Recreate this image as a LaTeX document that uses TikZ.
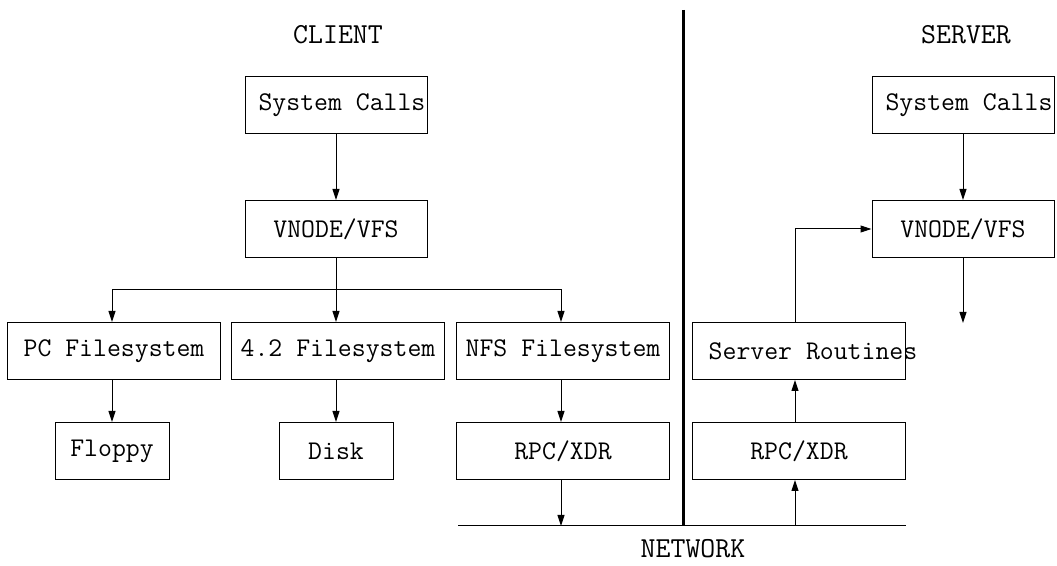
\documentclass[tikz,border=0pt]{standalone}
\usepackage{tikz}
\usetikzlibrary{arrows.meta,positioning}
\tikzset{every picture/.style={line width=0.5pt}}

\begin{document}
\begin{tikzpicture}[x=0.5pt, y=-0.5pt,
    txt/.style={font=\fontsize{13.5}{16}\selectfont\ttfamily},
    head/.style={font=\fontsize{14.5}{17}\selectfont\ttfamily},
    box/.style={txt, draw, inner sep=0pt, minimum height=28.5pt},
    widebox/.style={box, minimum width=106.5pt},
    midbox/.style={box, minimum width=91pt},
    smallbox/.style={box, minimum width=57pt},
    arr/.style={-{Triangle[length=5.5pt, width=3.5pt]}}]
    \useasboundingbox (0,0) rectangle (1057,566);

    % 标题
    \node[head] (client) at (338,35) {CLIENT};
    \node[head] (server) at (966,35) {SERVER};
    \node[head] (network) at (693,549) {NETWORK};

    % 客户端
    \node[midbox] (csys) at (336,105) {\hspace*{3pt}System Calls\hspace*{-3pt}};
    \node[midbox] (cvfs) at (336,229) {VNODE/VFS};
    \node[widebox] (pcfs) at (114,351) {PC Filesystem};
    \node[widebox] (lfs) at (338,351) {4.2 Filesystem};
    \node[widebox] (nfs) at (563,351) {NFS Filesystem};
    \node[smallbox] (floppy) at (112,451) {Floppy};
    \node[smallbox] (disk) at (336,451) {Disk};
    \node[widebox] (crpc) at (563,451) {RPC/XDR};

    % 服务器端
    \node[midbox] (ssys) at (963,105) {\hspace*{3pt}System Calls\hspace*{-3pt}};
    \node[midbox] (svfs) at (963,229) {VNODE/VFS};
    \node[widebox] (sroute) at (799,351) {\hspace*{7pt}Server Routines\hspace*{-7pt}};
    \node[widebox] (srpc) at (799,451) {RPC/XDR};

    % 分隔线与网络
    \coordinate (split) at (336,290);
    \coordinate (netw) at (458,526);
    \coordinate (nete) at (906,526);
    \coordinate (sout) at (963,323);
    \draw[line width=1.5pt] (683,10) -- (683,526);
    \draw (netw) -- (nete);

    % 连线
    \draw[arr] (csys) -- (cvfs);
    \draw (cvfs) -- (split);
    \draw[arr] (split) -| (floppy |- pcfs.north);
    \draw[arr] (split) -- (disk |- lfs.north);
    \draw[arr] (split) -| ([xshift=-1pt]nfs.north);
    \draw[arr] (floppy |- pcfs.south) -- (floppy);
    \draw[arr] (disk |- lfs.south) -- (disk);
    \draw[arr] ([xshift=-1pt]nfs.south) -- ([xshift=-1pt]crpc.north);
    \draw[arr] ([xshift=-1pt]crpc.south) -- ([xshift=-1pt]crpc.south |- netw);
    \draw[arr] ([xshift=-2pt]srpc.south |- netw) -- ([xshift=-2pt]srpc.south);
    \draw[arr] ([xshift=-2pt]srpc.north) -- ([xshift=-2pt]sroute.south);
    \draw[arr] ([xshift=-2pt]sroute.north) |- (svfs);
    \draw[arr] (ssys) -- (svfs);
    \draw[arr] (svfs) -- (sout);
\end{tikzpicture}
\end{document}
